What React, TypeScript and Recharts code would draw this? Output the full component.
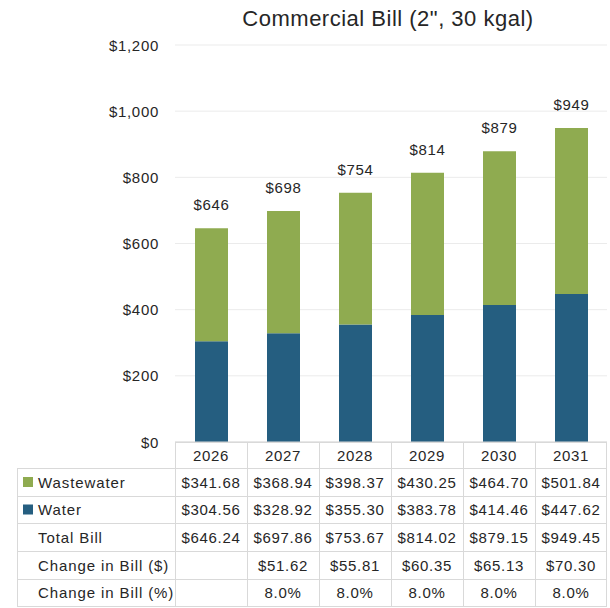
import React from "react";
import { BarChart, Bar, XAxis, YAxis, CartesianGrid, LabelList } from "recharts";

const years = ["2026", "2027", "2028", "2029", "2030", "2031"];
const wastewater = [341.68, 368.94, 398.37, 430.25, 464.7, 501.84];
const water = [304.56, 328.92, 355.3, 383.78, 414.46, 447.62];
const totalBill = [646.24, 697.86, 753.67, 814.02, 879.15, 949.45];
const changeDollar: (number | null)[] = [null, 51.62, 55.81, 60.35, 65.13, 70.3];
const changePct: (number | null)[] = [null, 8.0, 8.0, 8.0, 8.0, 8.0];
const yTicks = [0, 200, 400, 600, 800, 1000, 1200];

const GREEN = "#8FAB50";
const BLUE = "#255E80";
const TEXT = "#262626";
const BORDER = "#D9D9D9";
const FONT = "'Liberation Sans', Arial, sans-serif";

const data = years.map((y, i) => ({
  year: y,
  water: water[i],
  wastewater: wastewater[i],
  total: totalBill[i],
}));

const W = 610;
const H = 608;
const PLOT_LEFT = 175;
const PLOT_RIGHT = 607;
const PLOT_TOP = 45;
const PLOT_BOTTOM = 442;
const TABLE_LEFT = 17;
const ROW_LINES = [442, 468, 496, 523, 551, 579, 606];

const money = (v: number) =>
  "$" + v.toLocaleString("en-US", { minimumFractionDigits: 2, maximumFractionDigits: 2 });

const YTick = (props: any) => {
  const { x, y, payload } = props;
  return (
    <text x={x} y={y} textAnchor="end" dominantBaseline="central" fontSize={15} fill={TEXT} fontFamily={FONT} style={{ letterSpacing: 0.7 }}>
      {"$" + Number(payload.value).toLocaleString("en-US")}
    </text>
  );
};

const XTick = (props: any) => {
  const { x, payload } = props;
  return (
    <text x={x} y={455} textAnchor="middle" dominantBaseline="central" fontSize={15} fill={TEXT} fontFamily={FONT} style={{ letterSpacing: 0.7 }}>
      {payload.value}
    </text>
  );
};

const TotalLabel = (props: any) => {
  const { x, y, width, value } = props;
  return (
    <text x={x + width / 2} y={y - 18} textAnchor="middle" fontSize={15} fill={TEXT} fontFamily={FONT} style={{ letterSpacing: 0.7 }}>
      {"$" + Math.round(Number(value))}
    </text>
  );
};

const rows: { label: string; swatch?: string; values: (number | null)[]; fmt: (v: number) => string }[] = [
  { label: "Wastewater", swatch: GREEN, values: wastewater, fmt: money },
  { label: "Water", swatch: BLUE, values: water, fmt: money },
  { label: "Total Bill", values: totalBill, fmt: money },
  { label: "Change in Bill ($)", values: changeDollar, fmt: money },
  { label: "Change in Bill (%)", values: changePct, fmt: (v) => v.toFixed(1) + "%" },
];

export default function App() {
  const colW = (PLOT_RIGHT - PLOT_LEFT) / years.length;
  return (
    <div style={{ position: "absolute", left: 0, top: 0, width: W, height: H, background: "#fff" }}>
      <BarChart
        width={W}
        height={H}
        data={data}
        margin={{ top: PLOT_TOP, right: W - PLOT_RIGHT, left: 0, bottom: H - PLOT_BOTTOM - 26 }}
        barSize={33}
      >
        <CartesianGrid vertical={false} stroke="#EBEBEB" />
        <YAxis
          width={PLOT_LEFT}
          domain={[0, 1200]}
          ticks={yTicks}
          axisLine={false}
          tickLine={false}
          tickSize={0}
          tickMargin={16}
          tick={<YTick />}
          interval={0}
        />
        <XAxis dataKey="year" height={26} axisLine={{ stroke: BORDER }} tickLine={false} tick={<XTick />} interval={0} />
        <Bar dataKey="water" stackId="a" fill={BLUE} isAnimationActive={false} />
        <Bar dataKey="wastewater" stackId="a" fill={GREEN} isAnimationActive={false}>
          <LabelList dataKey="total" content={<TotalLabel />} />
        </Bar>
      </BarChart>
      <svg width={W} height={H} style={{ position: "absolute", left: 0, top: 0, pointerEvents: "none" }}>
        <text x={388} y={26} textAnchor="middle" fontSize={22} fill={TEXT} fontFamily={FONT} style={{ letterSpacing: 0.5 }}>
          Commercial Bill (2", 30 kgal)
        </text>
        {ROW_LINES.map((yy, i) => (
          <line key={"h" + i} x1={i === 0 ? PLOT_LEFT : TABLE_LEFT} x2={PLOT_RIGHT} y1={yy + 0.5} y2={yy + 0.5} stroke={BORDER} strokeWidth={1} />
        ))}
        <line x1={TABLE_LEFT + 0.5} x2={TABLE_LEFT + 0.5} y1={ROW_LINES[1]} y2={ROW_LINES[ROW_LINES.length - 1]} stroke={BORDER} />
        {years.map((_, i) => (
          <line key={"v" + i} x1={PLOT_LEFT + i * colW + 0.5} x2={PLOT_LEFT + i * colW + 0.5} y1={ROW_LINES[0]} y2={ROW_LINES[ROW_LINES.length - 1]} stroke={BORDER} />
        ))}
        <line x1={PLOT_RIGHT - 0.5} x2={PLOT_RIGHT - 0.5} y1={ROW_LINES[0]} y2={ROW_LINES[ROW_LINES.length - 1]} stroke={BORDER} />
        {rows.map((r, ri) => {
          const cy = (ROW_LINES[ri + 1] + ROW_LINES[ri + 2]) / 2;
          return (
            <g key={"r" + ri}>
              {r.swatch && <rect x={23} y={cy - 5} width={10} height={10} fill={r.swatch} />}
              <text x={38} y={cy} dominantBaseline="central" fontSize={15} fill={TEXT} fontFamily={FONT} style={{ letterSpacing: 0.9 }}>
                {r.label}
              </text>
              {r.values.map((v, ci) =>
                v == null ? null : (
                  <text key={ci} x={PLOT_LEFT + (ci + 0.5) * colW} y={cy} textAnchor="middle" dominantBaseline="central" fontSize={15} fill={TEXT} fontFamily={FONT} style={{ letterSpacing: 0.7 }}>
                    {r.fmt(v)}
                  </text>
                )
              )}
            </g>
          );
        })}
      </svg>
    </div>
  );
}
